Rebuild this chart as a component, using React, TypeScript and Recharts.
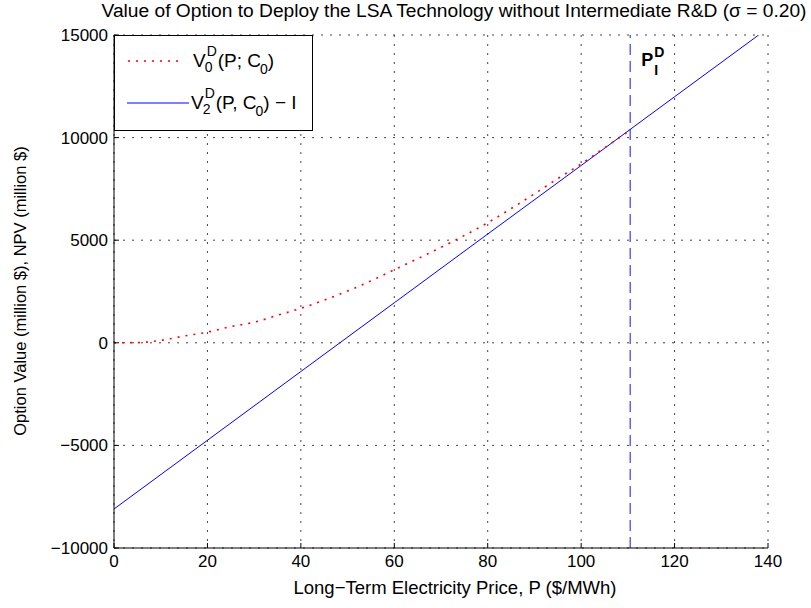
import React from 'react';
import {
  ComposedChart,
  Line,
  XAxis,
  YAxis,
  CartesianGrid,
  ReferenceLine,
} from 'recharts';

// Option value V0^D(P; C0)
const optionPrices = [0, 5, 10, 15, 20, 25, 30, 35, 40, 45, 50, 55, 60, 65, 70, 75, 80, 85, 90, 95, 100, 105, 110.5];
const optionValues = [0, 10, 120, 330, 520, 790, 1000, 1340, 1680, 2080, 2520, 3020, 3560, 4100, 4650, 5230, 5850, 6540, 7260, 8000, 8720, 9500, 10360];

// NPV V2^D(P, C0) - I, the straight blue line
const npvPrices = [0, 20, 40, 60, 80, 100, 120, 138];
const npvValues = [-8100, -4750, -1400, 1950, 5300, 8640, 11990, 15000];

// deployment threshold P_I^D
const thresholdPrice = 110.5;

const xTicks = [0, 20, 40, 60, 80, 100, 120, 140];
const yTicks = [-10000, -5000, 0, 5000, 10000, 15000];

const optionData = optionPrices.map((p, i) => ({ p, v: optionValues[i] }));
const npvData = npvPrices.map((p, i) => ({ p, v: npvValues[i] }));

const FONT = '"Liberation Sans", Arial, Helvetica, sans-serif';

const fmtTick = (v: number) => (v < 0 ? '\u2212' + Math.abs(v) : String(v));

// superscript stacked over subscript, like TeX V^D_0
const SupSub = ({ sup, sub }: { sup: string; sub: string }) => (
  <span style={{ display: 'inline-block', position: 'relative', width: 12, height: 10 }}>
    <span style={{ position: 'absolute', left: 1, top: -14, fontSize: 14 }}>{sup}</span>
    <span style={{ position: 'absolute', left: -1, top: 2, fontSize: 14 }}>{sub}</span>
  </span>
);

const Sub = ({ s }: { s: string }) => (
  <span style={{ position: 'relative', top: 7, fontSize: 14, marginLeft: -1 }}>{s}</span>
);

const ThresholdLabel = (props: any) => {
  const vb = props.viewBox || {};
  const x = (vb.x || 0) + 11;
  const y = (vb.y || 0) + 31;
  return (
    <g fontFamily={FONT} fontWeight="bold" fill="#000">
      <text x={x} y={y} fontSize={18}>P</text>
      <text x={x + 13} y={y - 9} fontSize={14}>D</text>
      <text x={x + 13} y={y + 9} fontSize={14}>I</text>
    </g>
  );
};

const App = () => {
  return (
    <div style={{ position: 'absolute', left: 0, top: 0, width: 811, height: 608, background: '#fff', fontFamily: FONT, overflow: 'hidden' }}>
      <ComposedChart
        width={811}
        height={608}
        margin={{ top: 35, right: 43, bottom: 0, left: 0 }}
      >
        <CartesianGrid stroke="#444" strokeDasharray="2 7" />
        <XAxis
          dataKey="p"
          type="number"
          domain={[0, 140]}
          ticks={xTicks}
          height={60}
          stroke="#000"
          tickSize={-5}
          tickMargin={12}
          tick={{ fill: '#000', fontSize: 17, fontFamily: FONT }}
          allowDataOverflow
        />
        <XAxis
          xAxisId="top"
          orientation="top"
          type="number"
          domain={[0, 140]}
          ticks={xTicks}
          height={0}
          stroke="#000"
          tickSize={-5}
          tickFormatter={() => ''}
        />
        <YAxis
          type="number"
          domain={[-10000, 15000]}
          ticks={yTicks}
          width={114}
          stroke="#000"
          tickSize={-5}
          tickMargin={11}
          tickFormatter={fmtTick}
          tick={{ fill: '#000', fontSize: 17, fontFamily: FONT }}
          allowDataOverflow
        />
        <YAxis
          yAxisId="right"
          orientation="right"
          type="number"
          domain={[-10000, 15000]}
          ticks={yTicks}
          width={0}
          stroke="#000"
          tickSize={-5}
          tickFormatter={() => ''}
        />
        <ReferenceLine
          x={thresholdPrice}
          stroke="#3a3aff"
          strokeWidth={1.2}
          strokeDasharray="11 6"
          label={<ThresholdLabel />}
        />
        <Line
          data={npvData}
          dataKey="v"
          type="linear"
          stroke="#0000ff"
          strokeWidth={1}
          dot={false}
          activeDot={false}
          isAnimationActive={false}
        />
        <Line
          data={optionData}
          dataKey="v"
          type="monotone"
          stroke="#ff0000"
          strokeWidth={1.6}
          strokeDasharray="2 6"
          dot={false}
          activeDot={false}
          isAnimationActive={false}
        />
      </ComposedChart>

      {/* title */}
      <div style={{ position: 'absolute', left: 0, top: 0, width: 908, textAlign: 'center', fontSize: 19.2, whiteSpace: 'nowrap', color: '#000' }}>
        Value of Option to Deploy the LSA Technology without Intermediate R&amp;D (σ = 0.20)
      </div>

      {/* x label */}
      <div style={{ position: 'absolute', left: 0, top: 577, width: 910, textAlign: 'center', fontSize: 18.5, whiteSpace: 'nowrap' }}>
        Long−Term Electricity Price, P ($/MWh)
      </div>

      {/* y label */}
      <div
        style={{
          position: 'absolute',
          left: 20,
          top: 291,
          transform: 'translate(-50%, -50%) rotate(-90deg)',
          fontSize: 16.5,
          whiteSpace: 'nowrap',
        }}
      >
        Option Value (million $), NPV (million $)
      </div>

      {/* legend */}
      <div
        style={{
          position: 'absolute',
          left: 114,
          top: 35,
          width: 199,
          height: 96,
          border: '1px solid #000',
          background: '#fff',
          fontSize: 19,
          boxSizing: 'border-box',
        }}
      >
        <div style={{ position: 'absolute', left: 12, top: 14, display: 'flex', alignItems: 'center' }}>
          <svg width={56} height={8}>
            <line x1={1} y1={4} x2={55} y2={4} stroke="#ff0000" strokeWidth={1.6} strokeDasharray="2 6" />
          </svg>
          <span style={{ marginLeft: 10 }}>
            V<SupSub sup="D" sub="0" />(P; C<Sub s="0" />)
          </span>
        </div>
        <div style={{ position: 'absolute', left: 12, top: 56, display: 'flex', alignItems: 'center' }}>
          <svg width={62} height={8}>
            <line x1={0} y1={4} x2={62} y2={4} stroke="#0000ff" strokeWidth={1} />
          </svg>
          <span style={{ marginLeft: 2 }}>
            V<SupSub sup="D" sub="2" />(P, C<Sub s="0" />) − I
          </span>
        </div>
      </div>
    </div>
  );
};

export default App;
